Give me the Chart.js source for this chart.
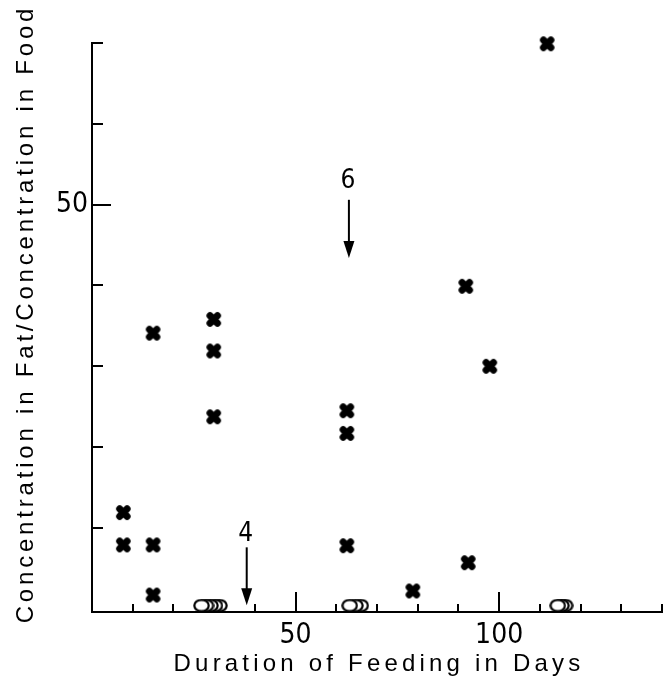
<!DOCTYPE html>
<html>
<head>
<meta charset="utf-8">
<script src="https://cdn.jsdelivr.net/npm/chart.js@4/dist/chart.umd.min.js"></script>
<style>
  html, body { margin: 0; padding: 0; background: #fff; }
  canvas { display: block; }
</style>
</head>
<body>
<canvas id="chart" width="671" height="682"></canvas>
<script>
// crosses: measured points (days, ratio)
const crossX = [7.7, 7.7, 15.0, 15.0, 15.0, 29.9, 29.9, 29.9, 62.6, 62.6, 62.6, 78.8, 91.8, 92.4, 97.7, 111.8];
const crossY = [11.9, 7.9, 34.1, 7.9, 1.7, 35.8, 31.9, 23.75, 24.5, 21.7, 7.8, 2.2, 39.9, 5.7, 30.0, 69.9];

// open circles sitting on the axis
const circleX = [26.9, 28.0, 29.1, 30.2, 31.3, 63.3, 64.7, 66.0, 114.4, 115.3, 116.2];
const circleY = [0.4, 0.4, 0.4, 0.4, 0.4, 0.4, 0.4, 0.4, 0.4, 0.4, 0.4];

const xTickValues = [10, 20, 30, 40, 50, 60, 70, 80, 90, 100, 110, 120, 130, 140];
const xLabelTicks = [50, 100];
const yTickValues = [10, 20, 30, 40, 50, 60, 70];
const yLabelTicks = [50];

// arrow annotations
const arrowLabels = ['4', '6'];
const arrowX = [38.0, 63.1];
const arrowTop = [7.6, 50.6];
const arrowTip = [0.45, 43.4];
const arrowLabelY = [9.2, 52.9];

const xTitle = 'Duration of Feeding in Days';
const yTitle = 'Concentration in Fat/Concentration in Food';

const digitFont = '"Liberation Sans Narrow", "DejaVu Sans Condensed", "Liberation Sans", sans-serif';
const titleFont = '"Liberation Sans", Arial, sans-serif';


function makeCross(size) {
    const c = document.createElement('canvas');
    c.width = size;
    c.height = size;
    const g = c.getContext('2d');
    g.strokeStyle = '#000';
    g.lineWidth = 7;
    g.lineCap = 'round';
    const a = 4.8;
    const b = size - 4.8;
    g.beginPath();
    g.moveTo(a, a);
    g.lineTo(b, b);
    g.moveTo(b, a);
    g.lineTo(a, b);
    g.stroke();
    return c;
}


function makeRing(w, h) {
    const c = document.createElement('canvas');
    c.width = w;
    c.height = h;
    const g = c.getContext('2d');
    g.fillStyle = '#fff';
    g.strokeStyle = '#000';
    g.lineWidth = 2.2;
    g.beginPath();
    g.ellipse(w / 2, h / 2, w / 2 - 1.3, h / 2 - 1.3, 0, 0, Math.PI * 2);
    g.fill();
    g.stroke();
    return c;
}


const crossImg = makeCross(17);
const ringImg = makeRing(17, 14);

// draw right-to-left so the leftmost ring ends up on top
const ringData = circleX.map((x, i) => ({ x, y: circleY[i] })).reverse();
const crossData = crossX.map((x, i) => ({ x, y: crossY[i] }));


const tickMarks = {
    id: 'tickMarks',
    beforeDatasetsDraw(chart) {
        const { ctx, chartArea, scales } = chart;
        ctx.save();
        ctx.strokeStyle = '#000';
        ctx.lineWidth = 2;
        ctx.beginPath();
        for (const v of xTickValues) {
            const px = Math.round(scales.x.getPixelForValue(v));
            const len = xLabelTicks.includes(v) ? 20 : 8;
            ctx.moveTo(px, chartArea.bottom);
            ctx.lineTo(px, chartArea.bottom - len);
        }
        for (const v of yTickValues) {
            const py = Math.round(scales.y.getPixelForValue(v));
            const len = yLabelTicks.includes(v) ? 19 : 11;
            ctx.moveTo(chartArea.left, py);
            ctx.lineTo(chartArea.left + len, py);
        }
        ctx.stroke();
        ctx.restore();
    }
};


const annotations = {
    id: 'annotations',
    afterDraw(chart) {
        const { ctx, chartArea, scales } = chart;
        ctx.save();
        ctx.fillStyle = '#000';
        ctx.strokeStyle = '#000';

        arrowLabels.forEach((label, i) => {
            const px = scales.x.getPixelForValue(arrowX[i]);
            const top = scales.y.getPixelForValue(arrowTop[i]);
            const tip = scales.y.getPixelForValue(arrowTip[i]);
            const headLen = 17;
            ctx.lineWidth = 2;
            ctx.beginPath();
            ctx.moveTo(px, top);
            ctx.lineTo(px, tip - headLen + 2);
            ctx.stroke();
            ctx.beginPath();
            ctx.moveTo(px, tip);
            ctx.lineTo(px - 5.5, tip - headLen);
            ctx.lineTo(px + 5.5, tip - headLen);
            ctx.closePath();
            ctx.fill();

            ctx.font = '26px ' + digitFont;
            ctx.textAlign = 'center';
            ctx.textBaseline = 'middle';
            ctx.fillText(label, px - 1, scales.y.getPixelForValue(arrowLabelY[i]));
        });

        // axis titles, letter-spaced like the original typesetting
        ctx.font = '24px ' + titleFont;
        ctx.textAlign = 'center';
        ctx.textBaseline = 'alphabetic';
        ctx.letterSpacing = '4.2px';
        ctx.fillText(xTitle, (chartArea.left + chartArea.right) / 2 + 2, 671);

        ctx.translate(33, 316);
        ctx.rotate(-Math.PI / 2);
        ctx.letterSpacing = '3.8px';
        ctx.fillText(yTitle, 2, 0);
        ctx.restore();
    }
};


new Chart(document.getElementById('chart'), {
    type: 'scatter',
    data: {
        datasets: [
            {
                label: 'rings',
                data: ringData,
                pointStyle: ringImg,
                pointRadius: 8,
                clip: false
            },
            {
                label: 'crosses',
                data: crossData,
                pointStyle: crossImg,
                pointRadius: 8,
                clip: false
            }
        ]
    },
    options: {
        responsive: false,
        animation: false,
        events: [],
        layout: {
            padding: { left: 30, top: 43, right: 8, bottom: 30 }
        },
        plugins: {
            legend: { display: false },
            tooltip: { enabled: false }
        },
        scales: {
            x: {
                type: 'linear',
                min: 0,
                max: 140,
                afterBuildTicks: (scale) => {
                    scale.ticks = xTickValues.map((v) => ({ value: v }));
                },
                afterFit: (scale) => {
                    scale.height = 40;
                },
                grid: { display: false, drawTicks: false },
                border: { display: true, color: '#000', width: 2 },
                ticks: {
                    autoSkip: false,
                    maxRotation: 0,
                    padding: 7,
                    color: '#000',
                    font: { family: digitFont, size: 28 },
                    callback: (v) => (xLabelTicks.includes(v) ? String(v) : '')
                }
            },
            y: {
                type: 'linear',
                min: -0.4,
                max: 70,
                afterBuildTicks: (scale) => {
                    scale.ticks = yTickValues.map((v) => ({ value: v }));
                },
                afterFit: (scale) => {
                    scale.width = 62;
                },
                grid: { display: false, drawTicks: false },
                border: { display: true, color: '#000', width: 2 },
                ticks: {
                    autoSkip: false,
                    padding: 4,
                    color: '#000',
                    font: { family: digitFont, size: 28 },
                    callback: (v) => (yLabelTicks.includes(v) ? String(v) : '')
                }
            }
        }
    },
    plugins: [tickMarks, annotations]
});
</script>
</body>
</html>
